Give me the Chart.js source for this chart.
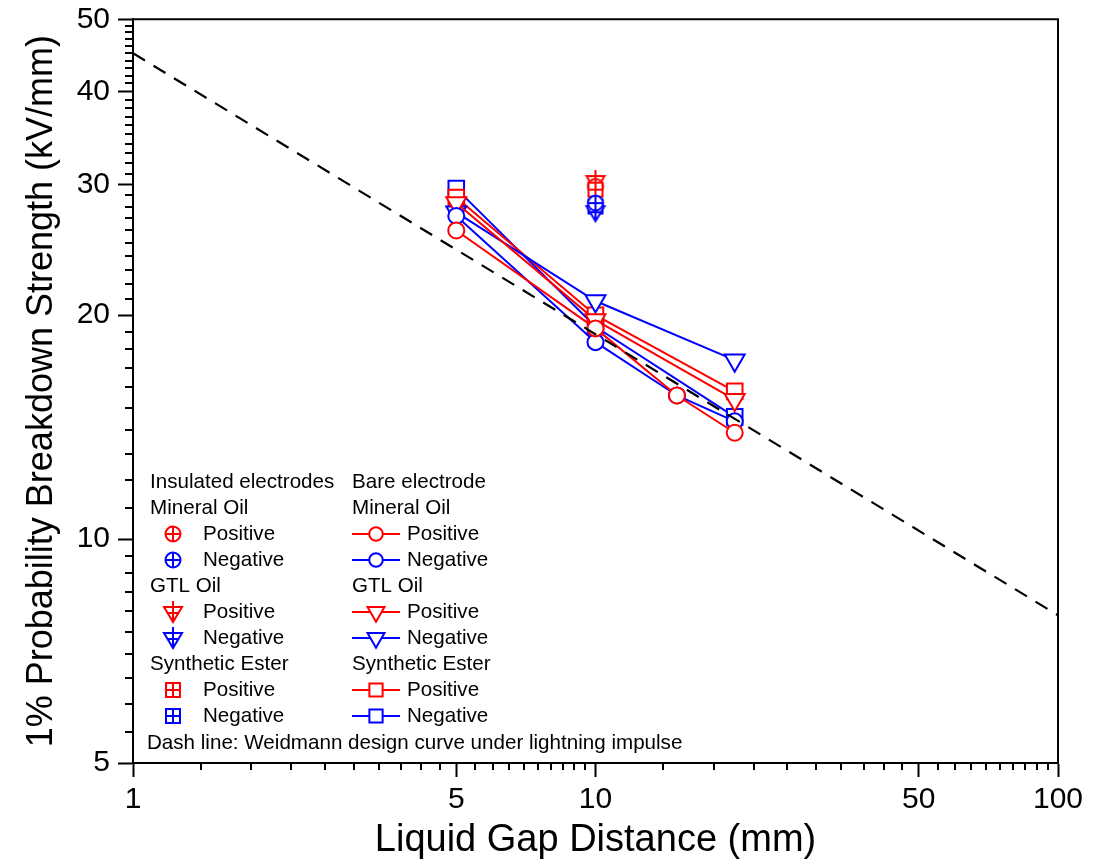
<!DOCTYPE html>
<html>
<head>
<meta charset="utf-8">
<script src="https://cdn.jsdelivr.net/npm/chart.js@4.4.1/dist/chart.umd.min.js"></script>
<style>
body{margin:0;background:#fff}
#wrap{width:1102px;height:865px}
</style>
</head>
<body>
<div id="wrap"><canvas id="chart"></canvas></div>
<script>
// gap distances (mm)
const gapMineral=[5,10,15,20]
const gapOther=[5,10,20]
const gapInsulated=[10]

// bare electrode, 1% breakdown strength (kV/mm)
const mineralPos=[26.0,19.2,15.6,13.9]
const mineralNeg=[27.2,18.4,15.6,14.4]
const gtlPos=[28.3,19.7,15.4]
const gtlNeg=[27.5,20.9,17.4]
const esterPos=[28.8,20.0,15.8]
const esterNeg=[29.6,19.3,14.6]

// insulated electrodes
const insMineralPos=[29.8]
const insMineralNeg=[28.3]
const insGtlPos=[30.3]
const insGtlNeg=[27.6]
const insEsterPos=[29.5]
const insEsterNeg=[28.0]

// Weidmann design curve
const weidmannGap=[1,100]
const weidmannE=[45,7.9]

const xTicks=[1,5,10,50,100]
const yTicks=[5,10,20,30,40,50]
const xMinorStep=[0.4,0.5,4,5]
const yMinorStep=[0.5,1,1,1,1]

const RED="#ff0000"
const BLUE="#0000ff"
const FONT="'Liberation Sans', Arial, sans-serif"

Chart.defaults.font.family=FONT
Chart.defaults.color="#000"

function minors(majors,steps){
    const out=[]
    for(let i=0;i<majors.length-1;i++){
        for(let v=majors[i]+steps[i];v<majors[i+1]-1e-6;v+=steps[i]) out.push(+v.toFixed(2))
    }
    return out
}
const xMinor=minors(xTicks,xMinorStep)
const yMinor=minors(yTicks,yMinorStep)

// crossed symbols used for insulated electrodes
function crossed(kind,color){
    const c=document.createElement("canvas")
    c.width=c.height=28
    const g=c.getContext("2d")
    const m=14
    g.strokeStyle=color
    g.fillStyle="#fff"
    g.lineWidth=2
    g.beginPath()
    if(kind==="circle"){
        g.arc(m,m,7.5,0,Math.PI*2)
        g.fill()
        g.moveTo(m-7.5,m);g.lineTo(m+7.5,m)
        g.moveTo(m,m-7.5);g.lineTo(m,m+7.5)
    }else if(kind==="triangle"){
        g.moveTo(m-9,m-5);g.lineTo(m+9,m-5);g.lineTo(m,m+10);g.closePath()
        g.fill()
        g.moveTo(m-9,m-5);g.lineTo(m+9,m-5)
        g.moveTo(m,m-11);g.lineTo(m,m+10)
        g.moveTo(m-6,m+1);g.lineTo(m+6,m+1)
    }else{
        g.rect(m-7,m-7,14,14)
        g.fill()
        g.moveTo(m-7,m);g.lineTo(m+7,m)
        g.moveTo(m,m-7);g.lineTo(m,m+7)
    }
    g.stroke()
    return c
}

const bareStyle={
    circle:{pointStyle:"circle",radius:8,rotation:0},
    triangle:{pointStyle:"triangle",radius:11.5,rotation:180},
    rect:{pointStyle:"rect",radius:11,rotation:0}
}

function bare(label,xs,ys,color,kind){
    const s=bareStyle[kind]
    return {
        label:label,
        data:xs.map((x,i)=>({x:x,y:ys[i]})),
        borderColor:color,
        borderWidth:2,
        pointStyle:s.pointStyle,
        pointRadius:s.radius,
        pointRotation:s.rotation,
        pointBorderColor:color,
        pointBackgroundColor:"#fff",
        pointBorderWidth:2,
        tension:0,
    }
}

function insulated(label,xs,ys,color,kind){
    return {
        label:label,
        data:xs.map((x,i)=>({x:x,y:ys[i]})),
        showLine:false,
        pointStyle:crossed(kind,color),
        pointRadius:10,
        borderColor:color,
    }
}

const datasets=[
    {
        label:"Weidmann",
        data:weidmannGap.map((x,i)=>({x:x,y:weidmannE[i]})),
        borderColor:"#000",
        borderWidth:2.2,
        borderDash:[14,10],
        pointRadius:0,
    },
    bare("Bare MO +",gapMineral,mineralPos,RED,"circle"),
    bare("Bare MO -",gapMineral,mineralNeg,BLUE,"circle"),
    bare("Bare GTL +",gapOther,gtlPos,RED,"triangle"),
    bare("Bare GTL -",gapOther,gtlNeg,BLUE,"triangle"),
    bare("Bare SE +",gapOther,esterPos,RED,"rect"),
    bare("Bare SE -",gapOther,esterNeg,BLUE,"rect"),
    insulated("Ins MO -",gapInsulated,insMineralNeg,BLUE,"circle"),
    insulated("Ins GTL -",gapInsulated,insGtlNeg,BLUE,"triangle"),
    insulated("Ins SE -",gapInsulated,insEsterNeg,BLUE,"rect"),
    insulated("Ins SE +",gapInsulated,insEsterPos,RED,"rect"),
    insulated("Ins MO +",gapInsulated,insMineralPos,RED,"circle"),
    insulated("Ins GTL +",gapInsulated,insGtlPos,RED,"triangle"),
]

const legendRows=[
    ["Insulated electrodes",null,"Bare electrode",null],
    ["Mineral Oil",null,"Mineral Oil",null],
    ["Positive",["circle",RED],"Positive",["circle",RED]],
    ["Negative",["circle",BLUE],"Negative",["circle",BLUE]],
    ["GTL Oil",null,"GTL Oil",null],
    ["Positive",["triangle",RED],"Positive",["triangle",RED]],
    ["Negative",["triangle",BLUE],"Negative",["triangle",BLUE]],
    ["Synthetic Ester",null,"Synthetic Ester",null],
    ["Positive",["rect",RED],"Positive",["rect",RED]],
    ["Negative",["rect",BLUE],"Negative",["rect",BLUE]],
]

const decorations={
    id:"decorations",
    afterDraw(chart){
        const ctx=chart.ctx
        const ca=chart.chartArea
        const xs=chart.scales.x
        const ys=chart.scales.y
        ctx.save()
        // frame top and right
        ctx.strokeStyle="#000"
        ctx.lineWidth=2
        ctx.beginPath()
        ctx.moveTo(ca.left,ca.top);ctx.lineTo(ca.right,ca.top);ctx.lineTo(ca.right,ca.bottom)
        ctx.stroke()
        // minor ticks
        ctx.beginPath()
        xMinor.forEach(v=>{
            const p=Math.round(xs.getPixelForValue(v))
            ctx.moveTo(p,ca.bottom);ctx.lineTo(p,ca.bottom+7)
        })
        yMinor.forEach(v=>{
            const p=Math.round(ys.getPixelForValue(v))
            ctx.moveTo(ca.left,p);ctx.lineTo(ca.left-8,p)
        })
        ctx.stroke()

        // legend
        const lx=ca.left+17
        const rx=ca.left+219
        const bottomRow=ca.bottom-20
        const rh=26
        ctx.font="20.6px "+FONT
        ctx.textBaseline="middle"
        ctx.fillStyle="#000"
        legendRows.forEach((r,i)=>{
            const y=bottomRow-(10-i)*rh-1
            if(r[1]){
                const img=crossed(r[1][0],r[1][1])
                ctx.drawImage(img,lx+23-img.width/2,y-img.height/2)
                ctx.fillStyle="#000"
                ctx.fillText(r[0],lx+53,y)
            }else{
                ctx.fillText(r[0],lx,y)
            }
            if(r[3]){
                const s=bareStyle[r[3][0]]
                ctx.strokeStyle=r[3][1]
                ctx.lineWidth=2
                ctx.beginPath()
                ctx.moveTo(rx,y);ctx.lineTo(rx+48,y)
                ctx.stroke()
                ctx.fillStyle="#fff"
                Chart.helpers.drawPoint(ctx,{pointStyle:s.pointStyle,radius:s.radius*0.85,rotation:s.rotation,borderWidth:2},rx+24,y)
                ctx.fillStyle="#000"
                ctx.fillText(r[2],rx+55,y)
            }else{
                ctx.fillText(r[2],rx,y)
            }
        })
        ctx.fillText("Dash line: Weidmann design curve under lightning impulse",lx-3,bottomRow)
        ctx.restore()
    }
}

new Chart(document.getElementById("chart"),{
    type:"line",
    data:{datasets:datasets},
    options:{
        responsive:true,
        maintainAspectRatio:false,
        animation:false,
        layout:{padding:{top:0,right:44,left:0,bottom:0}},
        plugins:{
            legend:{display:false},
            tooltip:{enabled:false},
        },
        scales:{
            x:{
                type:"logarithmic",
                min:1,
                max:100,
                afterBuildTicks:s=>{s.ticks=xTicks.map(v=>({value:v}))},
                afterFit:s=>{s.height=102},
                ticks:{
                    callback:v=>String(v),
                    font:{size:30},
                    padding:5,
                    maxRotation:0,
                    autoSkip:false,
                },
                grid:{
                    drawOnChartArea:false,
                    tickLength:14,
                    tickWidth:2,
                    tickColor:"#000",
                },
                border:{color:"#000",width:2},
                title:{
                    display:true,
                    text:"Liquid Gap Distance (mm)",
                    font:{size:38},
                    padding:{top:0,bottom:2},
                },
            },
            y:{
                type:"logarithmic",
                min:5,
                max:50,
                afterBuildTicks:s=>{s.ticks=yTicks.map(v=>({value:v}))},
                afterFit:s=>{s.width=133},
                ticks:{
                    callback:v=>String(v),
                    font:{size:30,lineHeight:0.75},
                    padding:8,
                    autoSkip:false,
                },
                grid:{
                    drawOnChartArea:false,
                    tickLength:15,
                    tickWidth:2,
                    tickColor:"#000",
                },
                border:{color:"#000",width:2},
                title:{
                    display:true,
                    text:"1% Probability Breakdown Strength (kV/mm)",
                    font:{size:36},
                    padding:{top:20,bottom:0},
                },
            },
        },
    },
    plugins:[decorations],
})
</script>
</body>
</html>
